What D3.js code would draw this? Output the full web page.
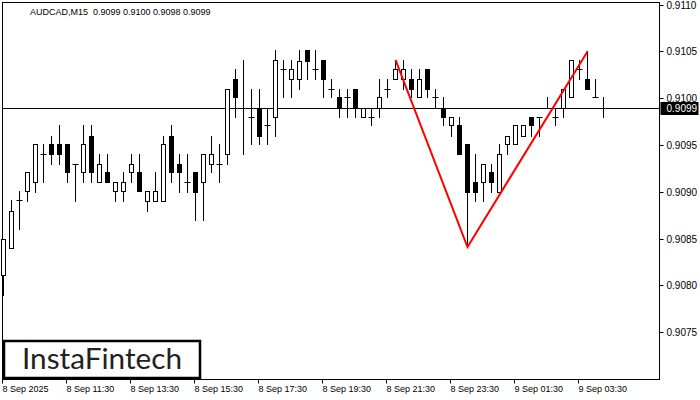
<!DOCTYPE html>
<html><head><meta charset="utf-8">
<script src="https://cdn.jsdelivr.net/npm/d3@7"></script>
<style>html,body{margin:0;padding:0;background:#fff;}svg{display:block;}</style>
</head><body>
<script>
const opens  = [0.90811,0.90840,0.90891,0.90901,0.90910,0.90940,0.90951,0.90951,0.90951,0.90930,0.90921,0.90960,0.90910,0.90921,0.90901,0.90901,0.90921,0.90921,0.90890,0.90890,0.90890,0.90960,0.90930,0.90910,0.90921,0.90910,0.90930,0.90930,0.90940,0.91020,0.90990,0.90980,0.90990,0.90971,0.90980,0.91031,0.91020,0.91020,0.91051,0.91031,0.91041,0.91010,0.91001,0.91001,0.91010,0.90980,0.90980,0.90990,0.91010,0.91020,0.91020,0.91020,0.91001,0.91031,0.91001,0.90990,0.90971,0.90971,0.90951,0.90910,0.90910,0.90921,0.90900,0.90951,0.90951,0.90960,0.90980,0.90980,0.90990,0.90980,0.90990,0.91001,0.91031,0.91020,0.91001,0.90990];
const highs  = [0.90850,0.90891,0.90901,0.90921,0.90951,0.90951,0.90960,0.90971,0.90951,0.90930,0.90971,0.90971,0.90940,0.90940,0.90910,0.90921,0.90940,0.90940,0.90901,0.90921,0.90960,0.90971,0.90940,0.90940,0.90921,0.90940,0.90960,0.90951,0.91010,0.91031,0.91041,0.91010,0.91010,0.90990,0.91051,0.91041,0.91041,0.91051,0.91051,0.91051,0.91041,0.91020,0.91010,0.91010,0.91010,0.90990,0.90990,0.91020,0.91020,0.91041,0.91041,0.91031,0.91031,0.91031,0.91010,0.91001,0.90980,0.90980,0.90951,0.90940,0.90930,0.90930,0.90951,0.90960,0.90971,0.90971,0.90980,0.90980,0.91001,0.90990,0.91010,0.91041,0.91041,0.91050,0.91020,0.91001];
const lows   = [0.90790,0.90840,0.90860,0.90890,0.90900,0.90910,0.90930,0.90930,0.90910,0.90890,0.90910,0.90910,0.90910,0.90910,0.90890,0.90890,0.90910,0.90901,0.90880,0.90890,0.90890,0.90910,0.90900,0.90900,0.90870,0.90870,0.90921,0.90910,0.90930,0.90980,0.90940,0.90951,0.90951,0.90951,0.90960,0.91001,0.91001,0.91010,0.91020,0.91020,0.91001,0.91001,0.90980,0.90980,0.90980,0.90980,0.90971,0.90980,0.91001,0.91020,0.91010,0.91001,0.91001,0.91001,0.90990,0.90971,0.90960,0.90940,0.90841,0.90890,0.90890,0.90900,0.90900,0.90940,0.90951,0.90960,0.90960,0.90960,0.90990,0.90971,0.90980,0.91001,0.91020,0.91010,0.91001,0.90980];
const closes = [0.90850,0.90880,0.90891,0.90921,0.90951,0.90940,0.90940,0.90940,0.90921,0.90930,0.90951,0.90921,0.90930,0.90910,0.90910,0.90910,0.90930,0.90901,0.90901,0.90901,0.90951,0.90921,0.90921,0.90910,0.90900,0.90940,0.90940,0.90930,0.91010,0.91001,0.90990,0.90980,0.90960,0.90971,0.91041,0.91031,0.91031,0.91040,0.91040,0.91031,0.91020,0.91010,0.90990,0.91001,0.90990,0.90990,0.90980,0.91001,0.91010,0.91031,0.91031,0.91010,0.91020,0.91010,0.91001,0.90980,0.90980,0.90940,0.90900,0.90900,0.90930,0.90910,0.90940,0.90960,0.90971,0.90971,0.90971,0.90980,0.90990,0.90980,0.91010,0.91041,0.91031,0.91010,0.91001,0.90990];
const priceTicks = [0.9075,0.9080,0.9085,0.9090,0.9095,0.9100,0.9105,0.9110];
const timeTickIdx = [0,8,16,24,32,40,48,56,64,72];
const timeLabels = ["8 Sep 2025","8 Sep 11:30","8 Sep 13:30","8 Sep 15:30","8 Sep 17:30","8 Sep 19:30","8 Sep 21:30","8 Sep 23:30","9 Sep 01:30","9 Sep 03:30"];
const patternIdx = [49,58,73];
const patternPrice = [0.91041,0.90841,0.91050];
const currentPrice = 0.9099;
const title = "AUDCAD,M15  0.9099 0.9100 0.9098 0.9099";

const W=700,H=400, L=2.5, R=659.5, T=2.5, B=379.5;
const svg=d3.select("body").append("svg").attr("width",W).attr("height",H);
svg.append("rect").attr("width",W).attr("height",H).attr("fill","#fff");

const x=d3.scaleLinear().domain([0,75]).range([3.5,603.5]);
const y=d3.scaleLinear().domain([0.9070,0.9110]).range([379,4.6]);
const py=v=>Math.round(y(v))+0.5;

// frame
svg.append("rect").attr("x",L).attr("y",T).attr("width",R-L).attr("height",B-T)
  .attr("fill","none").attr("stroke","#000").attr("stroke-width",1);

// price axis
const yAxis=svg.append("g");
priceTicks.forEach(p=>{
  const yy=py(p);
  yAxis.append("line").attr("x1",R).attr("x2",R+4).attr("y1",yy).attr("y2",yy).attr("stroke","#000");
  yAxis.append("text").attr("x",R+7).attr("y",yy+3.5).text(p.toFixed(4))
    .attr("font-family","'Liberation Sans',Arial,sans-serif").attr("font-size",10).attr("fill","#000");
});

// time axis
timeTickIdx.forEach((k,j)=>{
  const xx=Math.round(x(k)-1.5)+0.5;
  svg.append("line").attr("x1",xx).attr("x2",xx).attr("y1",B).attr("y2",B+4).attr("stroke","#000");
  svg.append("text").attr("x",xx).attr("y",392).text(timeLabels[j])
    .attr("font-family","'Liberation Sans',Arial,sans-serif").attr("font-size",9).attr("fill","#000");
});

// current price line
const cy=py(currentPrice);
svg.append("line").attr("x1",L).attr("x2",R).attr("y1",cy).attr("y2",cy).attr("stroke","#000");

// candles
const g=svg.append("g");
opens.forEach((o,i)=>{
  const c=closes[i],h=highs[i],l=lows[i];
  const cx=x(i);
  g.append("line").attr("x1",cx).attr("x2",cx).attr("y1",py(h)-0.5).attr("y2",py(l)+0.5).attr("stroke","#000");
  const yo=py(o),yc=py(c);
  if(Math.abs(yo-yc)<2){
    g.append("line").attr("x1",cx-3).attr("x2",cx+3).attr("y1",yc).attr("y2",yc).attr("stroke","#000");
  } else {
    const top=Math.min(yo,yc),bot=Math.max(yo,yc);
    g.append("rect").attr("x",cx-2).attr("y",top).attr("width",4).attr("height",bot-top)
      .attr("fill",c>o?"#fff":"#000").attr("stroke","#000").attr("stroke-width",1);
  }
});

// pattern lines
const line=d3.line().x(d=>x(d[0])).y(d=>y(d[1]));
svg.append("path").datum(patternIdx.map((k,j)=>[k,patternPrice[j]]))
  .attr("d",line).attr("fill","none").attr("stroke","#ff0000").attr("stroke-width",2);

// current price label
svg.append("rect").attr("x",R+1).attr("y",cy-6.5).attr("width",38).attr("height",13).attr("fill","#000");
svg.append("text").attr("x",R+7).attr("y",cy+3.5).text(currentPrice.toFixed(4))
  .attr("font-family","'Liberation Sans',Arial,sans-serif").attr("font-size",10).attr("fill","#fff");

// title
svg.append("text").attr("x",30).attr("y",15).text(title).attr("xml:space","preserve").style("white-space","pre")
  .attr("font-family","'Liberation Sans',Arial,sans-serif").attr("font-size",9).attr("fill","#000");

// logo
svg.append("rect").attr("x",4).attr("y",341).attr("width",196).attr("height",37)
  .attr("fill","#fff").attr("stroke","#000").attr("stroke-width",2.5);
svg.append("text").attr("x",22).attr("y",369).text("InstaFintech")
  .attr("font-family","Lato,'Open Sans',sans-serif").attr("font-size",28).attr("fill","#222")
  .attr("textLength",160).attr("lengthAdjust","spacingAndGlyphs");
</script>
</body></html>
